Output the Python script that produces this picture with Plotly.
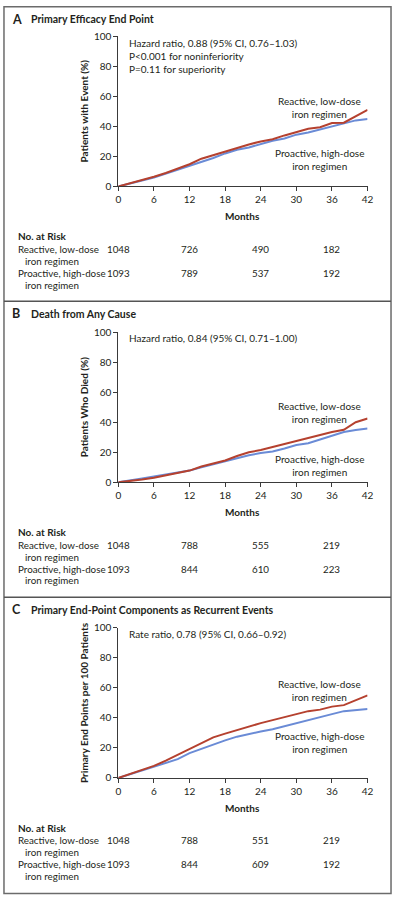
import plotly.graph_objects as go

W, H = 398, 900

# ---------------- data ----------------
months = [0, 2, 4, 6, 8, 10, 12, 14, 16, 18, 20, 22, 24, 26, 28, 30, 32, 34, 36, 38, 40, 42]

a_reactive = [0, 2, 4.5, 6.5, 9, 12, 14.8, 18.5, 21, 23.5, 26, 28, 30, 31.5, 34, 36.5, 38.5, 39.5, 42.3, 42.5, 46.5, 51]
a_proactive = [0, 1.8, 4, 6, 8.5, 11, 13.8, 16, 19, 22, 24.5, 26, 28.5, 30.5, 32, 34.5, 36, 38, 40.5, 42.5, 44, 45]

b_reactive = [0, 0.8, 1.8, 3, 4.5, 6.5, 7.8, 10.5, 12.5, 14.5, 17.5, 20, 21.5, 23.5, 26, 28, 29.5, 31.5, 33.5, 35, 40, 42.5]
b_proactive = [0, 1, 2.5, 3.8, 5, 6.5, 7.8, 10, 12, 14, 16.5, 18, 19.5, 20.5, 22.5, 24.8, 26, 28.5, 31, 33.5, 34.8, 35.8]

c_reactive = [0, 2.5, 5, 8, 11.5, 15.5, 19.5, 23.5, 27, 29.5, 32, 34.5, 36.5, 38.5, 40.5, 42.5, 44.5, 45.5, 47.5, 48.5, 51.5, 55]
c_proactive = [0, 2.5, 5, 7.5, 10.5, 12.5, 16.5, 19.5, 22.5, 25, 27.5, 29.5, 31, 32.5, 34.5, 37, 38.5, 40.5, 42.5, 44.5, 45.5, 46]

x_ticks = [0, 6, 12, 18, 24, 30, 36, 42]
y_ticks = [0, 20, 40, 60, 80, 100]

risk_months = [0, 12, 24, 36]
a_risk_reactive = [1048, 726, 490, 182]
a_risk_proactive = [1093, 789, 537, 192]
b_risk_reactive = [1048, 788, 555, 219]
b_risk_proactive = [1093, 844, 610, 223]
c_risk_reactive = [1048, 788, 551, 219]
c_risk_proactive = [1093, 844, 609, 192]

panel_letters = ["A", "B", "C"]
panel_titles = ["Primary Efficacy End Point", "Death from Any Cause",
                "Primary End-Point Components as Recurrent Events"]
y_titles = ["Patients with Event (%)", "Patients Who Died (%)",
            "Primary End Points per 100 Patients"]
stats_text = [
    "Hazard ratio, 0.88 (95% CI, 0.76–1.03)<br>P<0.001 for noninferiority<br>P=0.11 for superiority",
    "Hazard ratio, 0.84 (95% CI, 0.71–1.00)",
    "Rate ratio, 0.78 (95% CI, 0.66–0.92)",
]
series_names = ["Reactive, low-dose iron regimen", "Proactive, high-dose iron regimen"]
row_label_1 = ["Reactive, low-dose", "iron regimen"]
row_label_2 = ["Proactive, high-dose", "iron regimen"]

# ---------------- style ----------------
RED = "#b5412f"
BLUE = "#6a8bd6"
TXT = "#231f20"
AX = "#3a3a3a"
FONT = "Lato"

offsets = [0, 299.5, 598.8]
lab_react_y = [96.5, 106.5, 88]
lab_pro_y = [149.5, 160, 141]
title_y = [13.5, 12.2, 12.2]

def px(x):
    return x / W

def py(y):
    return 1 - y / H

fig = go.Figure()
data = [(a_reactive, a_proactive), (b_reactive, b_proactive), (c_reactive, c_proactive)]
risks = [(a_risk_reactive, a_risk_proactive), (b_risk_reactive, b_risk_proactive),
         (c_risk_reactive, c_risk_proactive)]

annotations = []
shapes = []
for i in range(3):
    off = offsets[i]
    xa = "x" if i == 0 else f"x{i+1}"
    ya = "y" if i == 0 else f"y{i+1}"
    r, p = data[i]
    fig.add_trace(go.Scatter(x=months, y=p, mode="lines", line=dict(color=BLUE, width=2),
                             name=series_names[1], xaxis=xa, yaxis=ya, showlegend=False))
    fig.add_trace(go.Scatter(x=months, y=r, mode="lines", line=dict(color=RED, width=2),
                             name=series_names[0], xaxis=xa, yaxis=ya, showlegend=False))
    axkey = "" if i == 0 else str(i + 1)
    fig.update_layout(**{
        f"xaxis{axkey}": dict(
            domain=[px(118), px(373)], range=[0, 42], anchor=ya, tickvals=x_ticks,
            ticks="outside", ticklen=4, tickcolor=AX, showline=True, linecolor=AX, linewidth=1,
            showgrid=False, zeroline=False, tickfont=dict(family=FONT, size=10, color=TXT),
            fixedrange=True),
        f"yaxis{axkey}": dict(
            domain=[py(off + 182.7), py(off + 30.7)], range=[0, 100], anchor=xa, tickvals=y_ticks,
            ticks="outside", ticklen=4, tickcolor=AX, showline=True, linecolor=AX, linewidth=1,
            showgrid=False, zeroline=False, tickfont=dict(family=FONT, size=10, color=TXT),
            fixedrange=True),
    })

    def ann(text, x, y, xanchor="left", size=10, bold=False, **kw):
        d = dict(text=text, x=x, y=y, xref=kw.pop("xref", "paper"), yref="paper",
                 xanchor=xanchor, yanchor="middle", showarrow=False,
                 font=dict(family=FONT, size=size, color=TXT,
                           weight=("bold" if bold else "normal")))
        d.update(kw)
        annotations.append(d)

    ann(panel_letters[i], px(7), py(off + title_y[i]), size=12.5, bold=True)
    ann(panel_titles[i], px(26.5), py(off + title_y[i]), size=10.5, bold=True)
    ann(y_titles[i], px(83), py(off + 106.7), xanchor="center", size=10, bold=True, textangle=-90)
    ann(stats_text[i], px(127), py(off + 29), size=10, align="left", yanchor="top")
    ann(series_names[0].replace(" iron", "<br>iron"), px(323.5), py(off + lab_react_y[i] + 6),
        xanchor="center", size=10)
    ann(series_names[1].replace(" iron", "<br>iron"), px(323.5), py(off + lab_pro_y[i] + 6),
        xanchor="center", size=10)
    ann("Months", px(245.5), py(off + 213), xanchor="center", size=10, bold=True)
    ann("No. at Risk", px(13.5), py(off + 233), size=10, bold=True)
    ann(row_label_1[0], px(13.5), py(off + 246), size=9.8)
    ann(row_label_1[1], px(20), py(off + 258), size=9.8)
    ann(row_label_2[0], px(13.5), py(off + 270), size=9.8)
    ann(row_label_2[1], px(20), py(off + 282), size=9.8)
    rr, rp = risks[i]
    for m, v1, v2 in zip(risk_months, rr, rp):
        ann(str(v1), m, py(off + 246), xanchor="center", size=9.8, xref=xa)
        ann(str(v2), m, py(off + 270), xanchor="center", size=9.8, xref=xa)

shapes.append(dict(type="rect", xref="paper", yref="paper", x0=px(1), x1=px(397), y0=py(898.5), y1=py(0.8),
                   line=dict(color="#6b6b6b", width=1.5)))
for sy in [299, 598.5]:
    shapes.append(dict(type="line", xref="paper", yref="paper", x0=px(1), x1=px(397), y0=py(sy), y1=py(sy),
                       line=dict(color="#555555", width=1.5)))

fig.update_layout(width=W, height=H, margin=dict(l=0, r=0, t=0, b=0),
                  paper_bgcolor="white", plot_bgcolor="white",
                  annotations=annotations, shapes=shapes, showlegend=False,
                  font=dict(family=FONT, color=TXT))
fig.write_html("out.html", config={"displayModeBar": False},
               post_script="document.body.style.margin='0';document.body.style.overflow='hidden';")
